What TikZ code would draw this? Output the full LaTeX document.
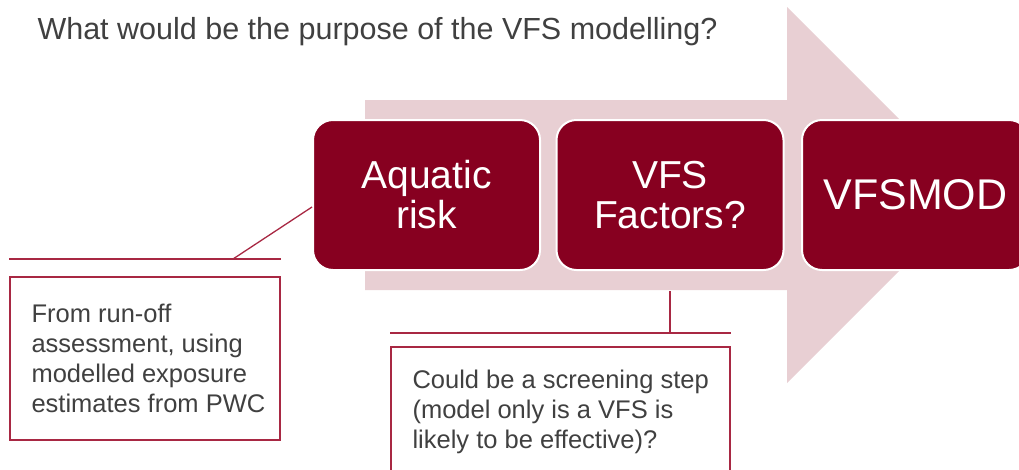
\documentclass[tikz,border=0pt]{standalone}
\usepackage{fontspec}
\setmainfont{Liberation Sans}
\usetikzlibrary{positioning}
\definecolor{winered}{HTML}{870020}
\definecolor{arrowpink}{HTML}{E8CFD3}
\definecolor{calloutline}{HTML}{A82843}
\definecolor{textgray}{HTML}{404040}
\tikzset{
	stage/.style={rounded corners=20pt, fill=winered, draw=white, line width=2pt,
		minimum width=227pt, minimum height=150pt, text=white, align=center,
		font=\fontsize{39}{40}\selectfont},
	callout/.style={draw=calloutline, line width=1.3pt, fill=white},
	callouttext/.style={text=textgray, align=left, inner sep=0pt, anchor=west,
		font=\fontsize{25.5}{30}\selectfont},
	leader/.style={draw=calloutline, line width=1.3pt}
}
\begin{document}
\begin{tikzpicture}[x=1pt,y=-1pt]
	\useasboundingbox (0,0) rectangle (1019,469);
	\clip (0,0) rectangle (1019,469);
	% draw the title
	\node[anchor=west, text=textgray, font=\fontsize{30.5}{32}\selectfont] (title) at (34,32) {What would be the purpose of the VFS modelling?};
	% draw the callouts
	\node[callout, minimum width=270pt, minimum height=163pt] (runoff) at (145,358.5) {};
	\node[callouttext, right=22pt of runoff.west] (runofftext)
		{From run-off\\assessment, using\\modelled exposure\\estimates from PWC};
	\node[callout, minimum width=339pt, minimum height=130pt] (screen) at (560.5,412) {};
	\node[callouttext, right=22pt of screen.west] (screentext)
		{Could be a screening step\\(model only is a VFS is\\likely to be effective)?};
	\coordinate (runbar) at (233,259);
	\coordinate (screenbar) at (670,333);
	\draw[leader] (runoff.north west |- runbar) -- (runoff.north east |- runbar);
	\draw[leader] (screen.north west |- screenbar) -- (screen.north east |- screenbar);
	% draw the big arrow
	\fill[arrowpink] (365,100) -- (787,100) -- (787,7) -- (975,195) -- (787,383) -- (787,290) -- (365,290) -- cycle;
	% draw the stages
	\node[stage] (aquatic) at (426.5,195) {Aquatic\\risk};
	\node[stage] (factors) at (670,195) {VFS\\Factors?};
	\node[stage, font=\fontsize{43}{45}\selectfont] (vfsmod) at (915.5,195) {VFSMOD};
	% draw the leaders
	\draw[leader] (runbar) -- (aquatic.west |- 0,207);
	\draw[leader] (screenbar) -- (factors.south |- 0,291);
\end{tikzpicture}
\end{document}
